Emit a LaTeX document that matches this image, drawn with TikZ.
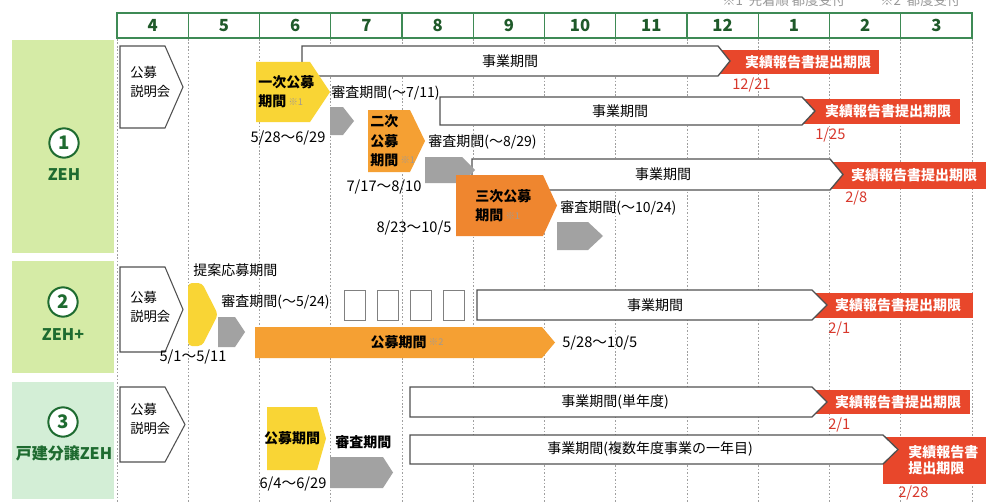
\documentclass[tikz,border=0pt]{standalone}
\usepackage{fontspec}
\setmainfont{Noto Sans CJK JP}
\usepackage{xcolor}
\usepackage{tikz}
\usetikzlibrary{positioning, arrows.meta, calc}
\definecolor{zehgreen}{HTML}{1E6B30}
\definecolor{hdrgreen}{HTML}{3E8A55}
\definecolor{hdrtext}{HTML}{1F5A2A}
\definecolor{limegreen}{HTML}{D5EBA6}
\definecolor{mintgreen}{HTML}{D3EED6}
\definecolor{boshuyellow}{HTML}{F9D535}
\definecolor{boshuorange}{HTML}{F5A033}
\definecolor{deeporange}{HTML}{EF862F}
\definecolor{shinsagray}{HTML}{A2A2A2}
\definecolor{houkokured}{HTML}{E8472B}
\definecolor{datered}{HTML}{D8382C}
\definecolor{outlinegray}{HTML}{505050}
\definecolor{komegray}{HTML}{A39A90}

% pentagon bar: style, left, top, body end, bottom, tip
\newcommand{\pentarrow}[6]{%
  \path[#1] (#2,#3) -- (#4,#3) -- (#6,{(#3+#5)/2}) -- (#4,#5) -- (#2,#5) -- cycle;}
\newcommand{\komenote}[1]{\,{\fontsize{7}{7}\selectfont\mdseries\color{komegray}\raisebox{0.35ex}{※#1}}}

\tikzset{
  gridline/.style={gray!75, line width=0.6pt, dash pattern=on 1.2pt off 1.4pt},
  hdrcell/.style={draw=hdrgreen, line width=0.9pt, minimum width=53.44pt,
    minimum height=18.75pt, inner sep=0pt, text=hdrtext,
    font=\fontsize{12.5}{12.5}\selectfont\bfseries},
  circnum/.style={circle, draw=zehgreen, line width=1.5pt, fill=white,
    minimum size=22pt, inner sep=0pt, text=zehgreen,
    font=\fontsize{14}{14}\selectfont\bfseries},
  rowname/.style={inner sep=0pt, text=zehgreen, font=\fontsize{12}{12}\selectfont\bfseries},
  briefing/.style={draw=outlinegray, line width=0.8pt, fill=white},
  jigyo/.style={draw=outlinegray, line width=1pt, fill=white},
  yellowbox/.style={fill=boshuyellow},
  orangebox/.style={fill=boshuorange},
  deeporangebox/.style={fill=deeporange},
  graybox/.style={fill=shinsagray},
  emptybox/.style={draw=gray, line width=0.7pt, fill=white},
  lbl/.style={inner sep=0pt, font=\fontsize{10.5}{12}\selectfont},
  boldlbl/.style={inner sep=0pt, align=left, font=\fontsize{10.5}{14.5}\selectfont\bfseries},
  smalllbl/.style={inner sep=0pt, align=left, font=\fontsize{10}{14}\selectfont},
  datelbl/.style={inner sep=0pt, font=\fontsize{11}{12}\selectfont},
  reddate/.style={datelbl, text=datered, anchor=west},
  redlbl/.style={inner sep=0pt, align=left, text=white,
    font=\fontsize{10.5}{12.5}\selectfont\bfseries},
  notelbl/.style={inner sep=0pt, text=gray!80, font=\fontsize{10}{12}\selectfont},
}

\begin{document}
\begin{tikzpicture}[x=0.75pt, y=-0.75pt]
  \useasboundingbox (0,0) rectangle (991,503);
  \fill[white] (0,0) rectangle (991,503);

  % notes (cut at the top edge)
  \node[notelbl, anchor=base west] (note1) at (722,5.5) {※1\ \ 先着順 都度受付};
  \node[notelbl, anchor=base west] (note2) at (880,5.5) {※2\ \ 都度受付};

  % months
  \foreach \m [count=\i from 0] in {4,5,6,7,8,9,10,11,12,1,2,3}
    \node[hdrcell] (m\m) at ({152.6+71.25*\i},25.5) {\m};
  \draw[hdrgreen, line width=1.3pt] (117,13) rectangle (972,38);
  \foreach \i in {0,...,12}
    \draw[gridline] ({117+71.25*\i},39) -- ({117+71.25*\i},503);

  % row labels
  \fill[limegreen] (12,40) rectangle (114,253);
  \fill[limegreen] (12,261) rectangle (114,373);
  \fill[mintgreen] (12,382) rectangle (114,499);
  \node[circnum] (num1) at (64,143) {1};
  \node[rowname] (zeh) at (64,175) {ZEH};
  \node[circnum] (num2) at (63,302) {2};
  \node[rowname] (zehplus) at (63,335) {ZEH+};
  \node[circnum] (num3) at (63,422) {3};
  \node[rowname] (bunjo) at (64,453) {戸建分譲ZEH};

  % --- row 1 ---
  \pentarrow{briefing}{120}{46}{165}{128}{183}
  \node[smalllbl, anchor=west] (setsumei1) at (130,82) {公募\\説明会};

  \fill[houkokured] (718,50) rectangle (879,74);
  \pentarrow{jigyo}{302}{46}{718}{76}{730}
  \node[lbl] (jigyo1) at (510,61) {事業期間};
  \node[redlbl] (kigen1) at (808,62) {実績報告書提出期限};
  \node[reddate] (d1221) at (732,85) {12/21};

  \pentarrow{yellowbox}{256}{62}{310}{122}{330}
  \node[boldlbl, anchor=west] (ichiji) at (258,92) {一次公募\\期間\komenote{1}};
  \node[datelbl] (ichijidate) at (288,138) {5/28～6/29};
  \node[lbl, anchor=west] (shinsa1) at (331,93) {審査期間(～7/11)};
  \pentarrow{graybox}{330}{107}{343}{135}{354}

  \fill[houkokured] (802,99) rectangle (960,124);
  \pentarrow{jigyo}{440}{97}{802}{125}{815}
  \node[lbl] (jigyo2) at (620,111) {事業期間};
  \node[redlbl] (kigen2) at (888,111) {実績報告書提出期限};
  \node[reddate] (d125) at (815,135) {1/25};

  \pentarrow{orangebox}{368}{110}{410}{172}{425}
  \node[boldlbl, anchor=west] (niji) at (370,141) {二次\\公募\\期間\komenote{1}};
  \node[datelbl] (nijidate) at (384,187) {7/17～8/10};
  \node[lbl, anchor=west] (shinsa2) at (428,142) {審査期間(～8/29)};

  \fill[houkokured] (830,162) rectangle (986,189);
  \pentarrow{jigyo}{472}{159}{830}{190}{843}
  \node[lbl] (jigyo3) at (663,174) {事業期間};
  \node[redlbl] (kigen3) at (914,175) {実績報告書提出期限};
  \node[reddate] (d28) at (845,198) {2/8};
  \pentarrow{graybox}{425}{157}{462}{183}{475}

  \pentarrow{deeporangebox}{456}{175}{543}{236}{557}
  \node[boldlbl, anchor=west] (sanji) at (475,206) {三次公募\\期間\komenote{1}};
  \node[datelbl] (sanjidate) at (414,228) {8/23～10/5};
  \node[lbl, anchor=west] (shinsa3) at (560,208) {審査期間(～10/24)};
  \pentarrow{graybox}{557}{222}{588}{250}{603}

  % --- row 2 ---
  \pentarrow{briefing}{120}{267}{165}{352}{183}
  \node[smalllbl, anchor=west] (setsumei2) at (130,307) {公募\\説明会};
  \node[lbl, anchor=west] (teian) at (193,270) {提案応募期間};
  \pentarrow{yellowbox, rounded corners=3pt}{188}{283}{202}{346}{218}
  \node[lbl, anchor=west] (shinsa4) at (221,302) {審査期間(～5/24)};
  \pentarrow{graybox}{218}{317}{235}{347}{245}
  \node[datelbl] (teiandate) at (193,357) {5/1～5/11};
  \foreach \x in {344,377,410,443}
    \draw[emptybox] (\x,290) rectangle ++(21,30);

  \fill[houkokured] (812,293) rectangle (973,318);
  \pentarrow{jigyo}{477}{290}{812}{320}{827}
  \node[lbl] (jigyo4) at (655,305) {事業期間};
  \node[redlbl] (kigen4) at (898,305) {実績報告書提出期限};
  \node[reddate] (d21a) at (828,329) {2/1};

  \pentarrow{orangebox}{255}{327}{542}{358}{555}
  \node[boldlbl] (boshu2) at (407,342) {公募期間\komenote{2}};
  \node[datelbl, anchor=west] (boshu2date) at (562,343) {5/28～10/5};

  % --- row 3 ---
  \pentarrow{briefing}{120}{387}{165}{462}{185}
  \node[smalllbl, anchor=west] (setsumei3) at (130,419) {公募\\説明会};
  \pentarrow{yellowbox}{267}{407}{317}{470}{326}
  \node[boldlbl] (boshu3) at (292,438) {公募期間};
  \node[datelbl] (boshu3date) at (293,484) {6/4～6/29};
  \node[boldlbl, anchor=west] (shinsa5) at (335,442) {審査期間};
  \pentarrow{graybox}{330}{457}{383}{488}{393}

  \fill[houkokured] (812,390) rectangle (970,414);
  \pentarrow{jigyo}{410}{387}{812}{417}{827}
  \node[lbl] (jigyo5) at (615,402) {事業期間(単年度)};
  \node[redlbl] (kigen5) at (898,402) {実績報告書提出期限};
  \node[reddate] (d21b) at (828,425) {2/1};

  \fill[houkokured] (883,437) rectangle (986,484);
  \pentarrow{jigyo}{410}{435}{883}{464}{898}
  \node[lbl] (jigyo6) at (650,449) {事業期間(複数年度事業の一年目)};
  \node[redlbl, anchor=west] (kigen6) at (908,460) {実績報告書\\提出期限};
  \node[reddate] (d228) at (898,493) {2/28};
\end{tikzpicture}
\end{document}
